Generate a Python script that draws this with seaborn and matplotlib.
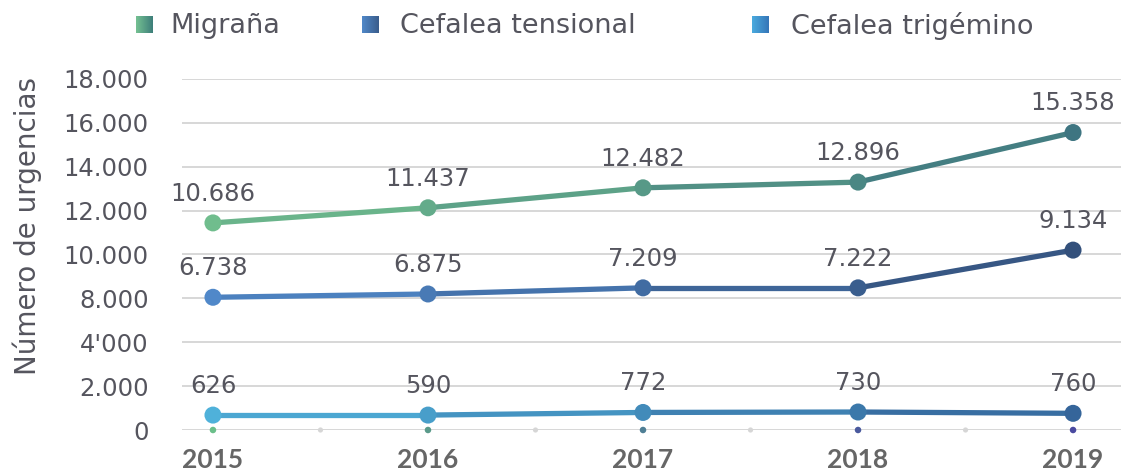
import numpy as np
import pandas as pd
import matplotlib
matplotlib.use("Agg")
import matplotlib.pyplot as plt
from matplotlib.colors import LinearSegmentedColormap
import seaborn as sns

# ── Datos ───────────────────────────────────────────────────────────────────
anios = [2015, 2016, 2017, 2018, 2019]

# valores rotulados en el gráfico
migrana = [10686, 11437, 12482, 12896, 15358]
tensional = [6738, 6875, 7209, 7222, 9134]
trigemino = [626, 590, 772, 730, 760]

# altura a la que aparece cada punto sobre la escala dibujada del eje
migrana_pos = [9440, 10130, 11040, 11300, 13560]
tensional_pos = [6050, 6200, 6480, 6480, 8200]
trigemino_pos = [680, 680, 800, 820, 760]

y_ticks = [0, 2000, 4000, 6000, 8000, 10000, 12000, 14000, 16000]
y_labels = ["0", "2.000", "4'000", "8.000", "10.000", "12.000", "14.000", "16.000", "18.000"]

series = ["Migraña", "Cefalea tensional", "Cefalea trigémino"]

# ── Estilo ──────────────────────────────────────────────────────────────────
sns.set_theme(style="white")
plt.rcParams["font.family"] = ["DejaVu Sans"]

TEXT = "#55555e"
GRID = "#cdcdcd"
GRADS = {
    "Migraña": ("#70bd8d", "#3e7581"),
    "Cefalea tensional": ("#5088c9", "#33507b"),
    "Cefalea trigémino": ("#4fb1da", "#35659a"),
}
LEG_GRADS = {
    "Migraña": ("#74c092", "#3e7f7a"),
    "Cefalea tensional": ("#5088c8", "#3a5d8c"),
    "Cefalea trigémino": ("#4aaade", "#3576b8"),
}
TICK_DOTS = ["#6bbf8a", "#5a9a8a", "#4f7f95", "#4a5a9e", "#4a4aa0"]

fig = plt.figure(figsize=(11.21, 4.72), dpi=100)
ax = fig.add_axes([182 / 1121, 42 / 472, 1 - 182 / 1121, 351 / 472])

datos = {
    "Migraña": (migrana, migrana_pos),
    "Cefalea tensional": (tensional, tensional_pos),
    "Cefalea trigémino": (trigemino, trigemino_pos),
}

for nombre in series:
    valores, pos = datos[nombre]
    cmap = LinearSegmentedColormap.from_list(nombre, GRADS[nombre])
    n = len(anios)
    # segmentos con color progresivo
    for i in range(n - 1):
        sns.lineplot(x=anios[i:i + 2], y=pos[i:i + 2], ax=ax,
                     color=cmap((i + 0.5) / (n - 1)), linewidth=3.8,
                     solid_capstyle="round", zorder=3)
    df = pd.DataFrame({"anio": anios, "pos": pos})
    sns.scatterplot(data=df, x="anio", y="pos", ax=ax, s=150,
                    c=[cmap(i / (n - 1)) for i in range(n)],
                    edgecolor="none", zorder=4, clip_on=False)
    for x, y, v in zip(anios, pos, valores):
        etiqueta = f"{v:,}".replace(",", ".")
        ax.annotate(etiqueta, (x, y), xytext=(0, 21), textcoords="offset points",
                    ha="center", va="center", fontsize=17.5, color=TEXT, zorder=5)

# puntos pequeños sobre la línea base
medios = [(a + b) / 2 for a, b in zip(anios[:-1], anios[1:])]
sns.scatterplot(x=medios, y=[0] * len(medios), ax=ax, s=14, color="#d6d6d6",
                edgecolor="none", zorder=3, clip_on=False)
sns.scatterplot(x=anios, y=[0] * len(anios), ax=ax, s=22, c=TICK_DOTS,
                edgecolor="none", zorder=3, clip_on=False)

ax.set_xlim(2015 - 0.144, 2019 + 0.223)
ax.set_ylim(0, 16000)
ax.set_yticks(y_ticks)
ax.set_yticklabels(y_labels)
ax.set_xticks(anios)
ax.set_xticklabels([str(a) for a in anios], fontfamily="Lato",
                   fontweight="bold", fontsize=19, color="#666666")
ax.tick_params(axis="y", length=0, pad=24, labelsize=17.5, labelcolor=TEXT)
ax.tick_params(axis="x", length=0, pad=13)
ax.yaxis.grid(True, color=GRID, linewidth=1.1)
ax.set_axisbelow(True)
for s in ax.spines.values():
    s.set_visible(False)
ax.set_xlabel("")
ax.set_ylabel("")

fig.text(27 / 1121, 1 - 226 / 472, "Número de urgencias", rotation=90,
         ha="center", va="center", fontsize=20, color=TEXT)

# leyenda con cuadros en degradado
leg_items = [("Migraña", 136, 170), ("Cefalea tensional", 362, 400),
             ("Cefalea trigémino", 752, 791)]
grad = np.linspace(0, 1, 32).reshape(1, -1)
for nombre, xq, xt in leg_items:
    cax = fig.add_axes([xq / 1121, 1 - 33 / 472, 17 / 1121, 17 / 472])
    cax.imshow(grad, aspect="auto",
               cmap=LinearSegmentedColormap.from_list(nombre + "_l", LEG_GRADS[nombre]))
    cax.set_axis_off()
    fig.text(xt / 1121, 1 - 26 / 472, nombre, ha="left", va="center",
             fontsize=19.5, color=TEXT)

fig.savefig("out.png", dpi=100)
